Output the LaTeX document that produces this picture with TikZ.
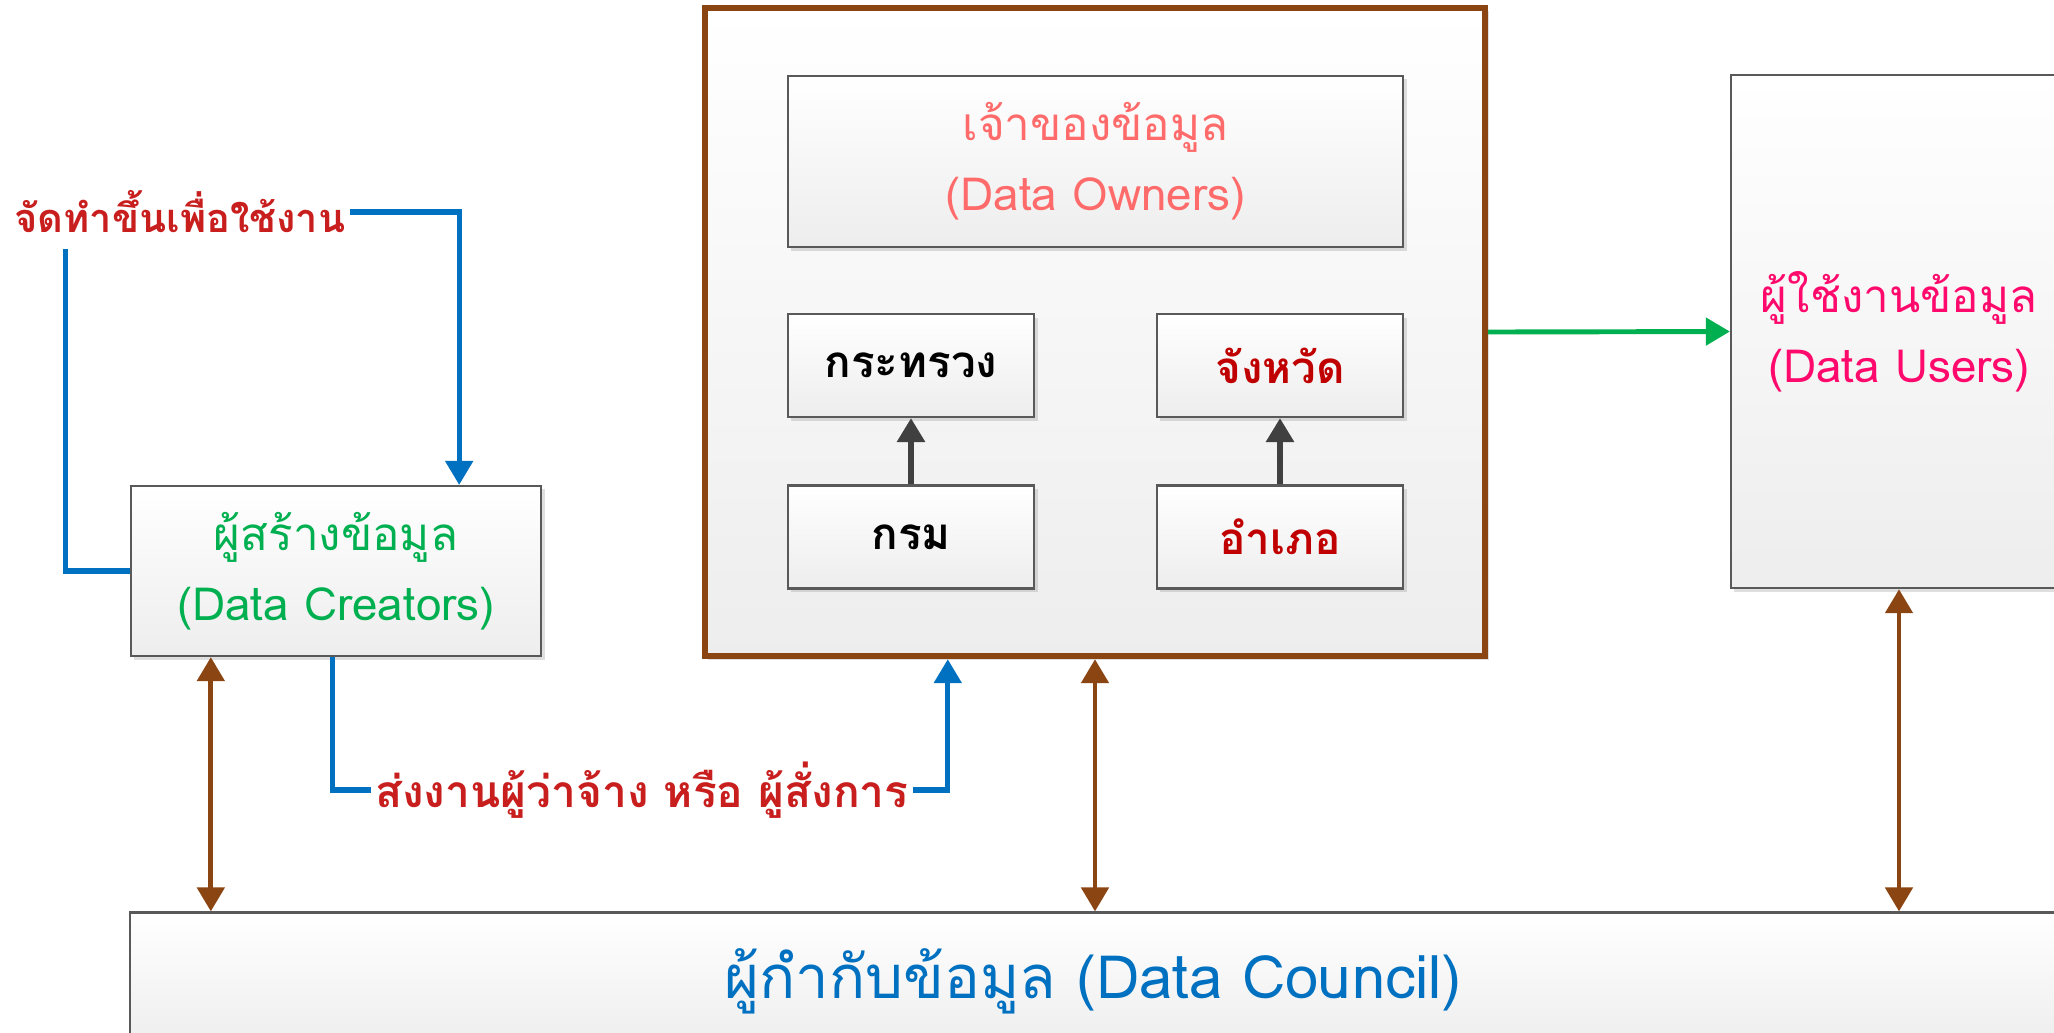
\documentclass[tikz,border=0pt]{standalone}
\usepackage{fontspec}
\setmainfont[Script=Thai]{Loma}
\usetikzlibrary{calc,arrows.meta,shadows}

\definecolor{framegray}{HTML}{595959}
\definecolor{linkblue}{HTML}{0070C0}
\definecolor{linkbrown}{HTML}{8B4513}
\definecolor{linkgreen}{HTML}{00B050}
\definecolor{arrowgray}{HTML}{404040}
\definecolor{labelred}{HTML}{C81E1E}
\definecolor{darkred}{HTML}{C00000}
\definecolor{ownerred}{HTML}{FF6B6B}
\definecolor{userpink}{HTML}{FF0A6C}

\newcommand{\pairfont}{\fontsize{13}{20}\selectfont}
\newcommand{\unitfont}{\fontsize{12.5}{15}\selectfont\bfseries}

\tikzset{
  card/.style={draw=framegray, line width=0.6pt, top color=white, bottom color=black!7,
    drop shadow={opacity=0.25, shadow xshift=1pt, shadow yshift=-1pt},
    inner sep=0pt, align=center},
  unit/.style={card, minimum width=2.46cm, minimum height=1.03cm, font=\unitfont},
  headend/.style={-{Triangle[width=0.27cm,length=0.24cm]}},
  bluelink/.style={draw=linkblue, line width=1.5pt},
  brownlink/.style={{Triangle[width=0.27cm,length=0.24cm]}-{Triangle[width=0.27cm,length=0.24cm]},
    draw=linkbrown, line width=1.4pt},
  greenlink/.style={headend, draw=linkgreen, line width=1.4pt},
  graylink/.style={headend, draw=arrowgray, line width=1.8pt},
  redlabel/.style={inner sep=1pt, text=labelred}
}

\begin{document}
\begin{tikzpicture}[x=0.01cm,y=-0.01cm]
\useasboundingbox (0,0) rectangle (2054,1032);

% owners frame with its four units
\node[card, draw=linkbrown, line width=1.7pt, minimum width=7.8cm, minimum height=6.48cm] (owners) at (1095,332) {};
\node[card, minimum width=6.15cm, minimum height=1.71cm, text=ownerred, font=\pairfont] (title) at (1095.5,161.5) {เจ้าของข้อมูล\\(Data Owners)};
\node[unit] (ministry) at (911,365.5) {กระทรวง};
\node[unit, text=darkred] (province) at (1280,365.5) {จังหวัด};
\node[unit] (dept) at (911,537) {กรม};
\node[unit, text=darkred] (district) at (1280,537) {อำเภอ};

% creators, users, council
\node[card, minimum width=4.10cm, minimum height=1.70cm, text=linkgreen, font=\pairfont] (creators) at (336,571) {ผู้สร้างข้อมูล\\(Data Creators)};
\node[card, minimum width=3.36cm, minimum height=5.13cm, text=userpink, font=\pairfont] (users) at (1899,331.5) {ผู้ใช้งานข้อมูล\\(Data Users)};
\node[card, minimum width=19.24cm, minimum height=1.37cm, text=linkblue, font=\fontsize{17}{19}\selectfont] (council) at (1093,981) {ผู้กำกับข้อมูล (Data Council)};

% the two red labels
\node[redlabel, font=\fontsize{11.3}{13}\selectfont\bfseries] (made) at (180,212) {จัดทำขึ้นเพื่อใช้งาน};
\node[redlabel, font=\fontsize{12.6}{15}\selectfont\bfseries] (send) at (642,790) {ส่งงานผู้ว่าจ้าง หรือ ผู้สั่งการ};

% links
\draw[bluelink, headend] (made.east) -| ($(creators.north east)+(-83,0)$);
\coordinate (madefoot) at ($(made.south west)+(55,12)$);
\draw[bluelink] (madefoot) |- (creators.west);
\draw[bluelink] ($(creators.south west)+(203,0)$) |- (send.west);
\draw[bluelink, headend] (send.east) -| ($(owners.south west)+(246,0)$);

\draw[graylink] (dept) -- (ministry);
\draw[graylink] (district) -- (province);
\draw[greenlink] (owners.east) -- (users.west);

\coordinate (cfoot) at ($(creators.south west)+(81,0)$);
\draw[brownlink] (cfoot) -- (cfoot |- council.north);
\draw[brownlink] (owners.south) -- (owners.south |- council.north);
\draw[brownlink] (users.south) -- (users.south |- council.north);

\end{tikzpicture}
\end{document}
